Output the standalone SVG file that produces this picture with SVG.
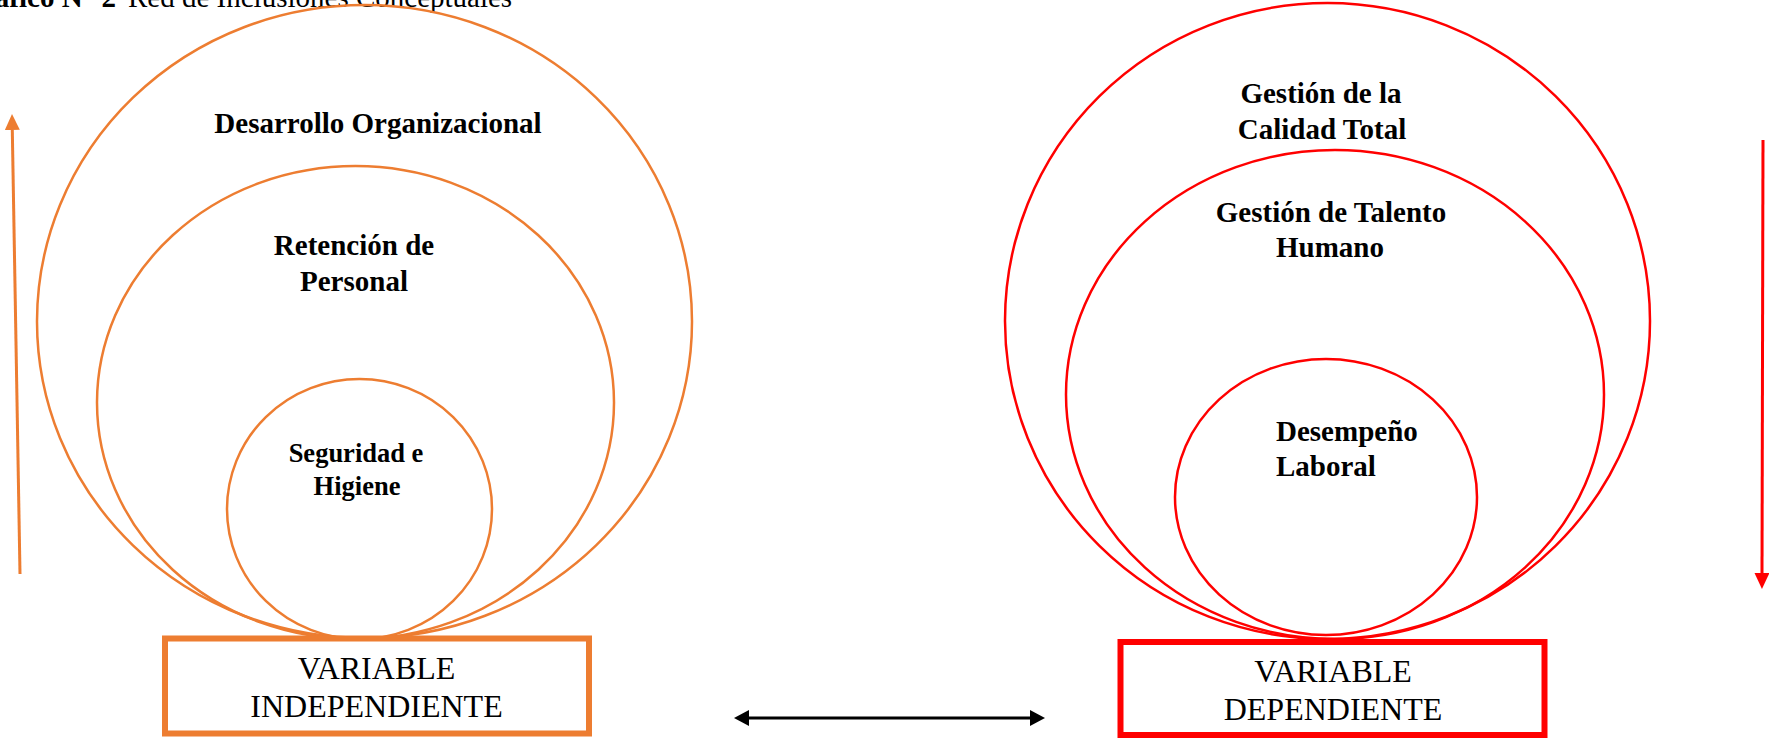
<svg xmlns="http://www.w3.org/2000/svg" width="1771" height="738" viewBox="0 0 1771 738">
<style>
text{font-family:"Liberation Serif","Times New Roman",serif;fill:#000}
.lbl{font-weight:bold;font-size:29px;text-anchor:middle}
.st{text-anchor:start}
.sm{font-size:26.5px}
.var{font-size:32px;text-anchor:middle}
.o{fill:none;stroke:#ED7D31;stroke-width:2.5}
.r{fill:none;stroke:#FF0000;stroke-width:2.5}
.obox{fill:#fff;stroke:#ED7D31;stroke-width:6}
.rbox{fill:#fff;stroke:#FF0000;stroke-width:6}
</style>
<defs>
<marker id="ao" viewBox="0 0 16 15" refX="0" refY="7.5" markerWidth="16" markerHeight="15" markerUnits="userSpaceOnUse" orient="auto"><path d="M0,0 L16,7.5 L0,15 z" fill="#ED7D31"/></marker>
<marker id="ar" viewBox="0 0 16 15" refX="0" refY="7.5" markerWidth="16" markerHeight="15" markerUnits="userSpaceOnUse" orient="auto"><path d="M0,0 L16,7.5 L0,15 z" fill="#FF0000"/></marker>
<marker id="ak" viewBox="0 0 15 16" refX="0" refY="8" markerWidth="15" markerHeight="16" markerUnits="userSpaceOnUse" orient="auto-start-reverse"><path d="M0,0 L15,8 L0,16 z" fill="#000"/></marker>
</defs>
<rect width="1771" height="738" fill="#fff"/>
<text x="116" y="7" font-size="29" font-weight="bold" text-anchor="end">Gráfico N° 2</text>
<text x="128" y="7" font-size="29">Red de Inclusiones Conceptuales</text>

<g id="desarrollo-organizacional">
<ellipse class="o" cx="364.5" cy="321.5" rx="327.5" ry="316.5"/>
<text class="lbl" x="378" y="133">Desarrollo Organizacional</text>
</g>
<g id="retencion-personal">
<ellipse class="o" cx="355.5" cy="402.5" rx="258.5" ry="236.5"/>
<text class="lbl" x="354" y="255">Retención de</text>
<text class="lbl" x="354" y="291">Personal</text>
</g>
<g id="seguridad-higiene">
<ellipse class="o" cx="359.5" cy="509" rx="132.5" ry="130"/>
<text class="lbl sm" x="356" y="462">Seguridad e</text>
<text class="lbl sm" x="357" y="495">Higiene</text>
</g>
<g id="variable-independiente">
<rect class="obox" x="165" y="638.5" width="424" height="95"/>
<text class="var" x="376.5" y="679">VARIABLE</text>
<text class="var" x="376.5" y="717">INDEPENDIENTE</text>
</g>

<g id="calidad-total">
<ellipse class="r" cx="1327.5" cy="321" rx="322.5" ry="318"/>
<text class="lbl" x="1321" y="103">Gestión de la</text>
<text class="lbl" x="1322" y="139">Calidad Total</text>
</g>
<g id="talento-humano">
<ellipse class="r" cx="1335" cy="394.5" rx="269" ry="244.5"/>
<text class="lbl" x="1331" y="222">Gestión de Talento</text>
<text class="lbl" x="1330" y="257">Humano</text>
</g>
<g id="desempeno-laboral">
<ellipse class="r" cx="1326" cy="497" rx="151" ry="138"/>
<text class="lbl st" x="1276" y="441">Desempeño</text>
<text class="lbl st" x="1276" y="476">Laboral</text>
</g>
<g id="variable-dependiente">
<rect class="rbox" x="1120.5" y="642" width="424" height="93"/>
<text class="var" x="1333" y="682">VARIABLE</text>
<text class="var" x="1333" y="720">DEPENDIENTE</text>
</g>

<g id="connectors">
<line x1="20" y1="574" x2="12.3" y2="130" stroke="#ED7D31" stroke-width="3" marker-end="url(#ao)"/>
<line x1="1763" y1="140" x2="1762" y2="573" stroke="#FF0000" stroke-width="3" marker-end="url(#ar)"/>
<line x1="749" y1="718" x2="1030" y2="718" stroke="#000" stroke-width="3" marker-start="url(#ak)" marker-end="url(#ak)"/>
</g>
</svg>
